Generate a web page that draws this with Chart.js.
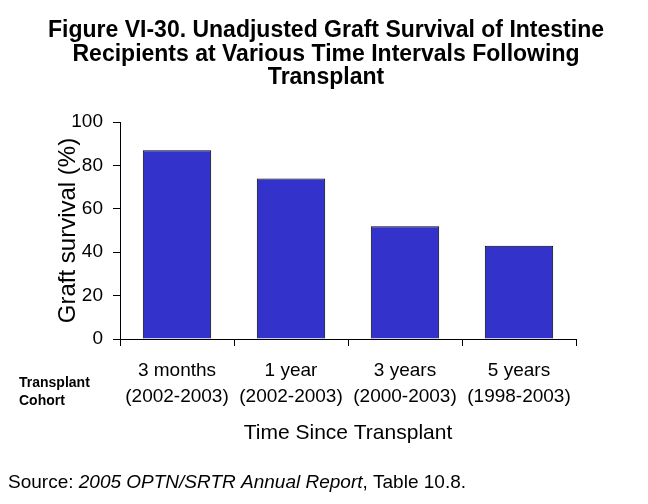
<!DOCTYPE html>
<html>
<head>
<meta charset="utf-8">
<title>Figure VI-30</title>
<script src="https://cdn.jsdelivr.net/npm/chart.js@4/dist/chart.umd.min.js"></script>
<style>
  html, body { margin: 0; padding: 0; background: #fff; }
  canvas { display: block; }
</style>
</head>
<body>
<canvas id="chart1" width="648" height="504"></canvas>
<script>
// data
const intervals = [['3 months', '(2002-2003)'], ['1 year', '(2002-2003)'], ['3 years', '(2000-2003)'], ['5 years', '(1998-2003)']];
const graftSurvival = [87, 74, 52, 43];
const yTicks = [0, 20, 40, 60, 80, 100];

const titleLines = [
  'Figure VI-30. Unadjusted Graft Survival of Intestine',
  'Recipients at Various Time Intervals Following',
  'Transplant'
];

const FONT = '"Liberation Sans", Arial, Helvetica, sans-serif';

// title (centred on the whole page), row label on the left and the source line
const notes = {
  id: 'notes',
  afterDraw(chart) {
    const ctx = chart.ctx;
    ctx.save();
    ctx.fillStyle = '#000';
    ctx.textBaseline = 'middle';

    ctx.textAlign = 'center';
    ctx.font = 'bold 23px ' + FONT;
    titleLines.forEach((line, i) => ctx.fillText(line, 326, 31 + i * 23.5));

    ctx.textAlign = 'left';
    ctx.font = 'bold 14px ' + FONT;
    ctx.fillText('Transplant', 19, 383);
    ctx.fillText('Cohort', 19, 401);

    let x = 8;
    const y = 483;
    const parts = [
      ['normal', 'Source: '],
      ['italic', '2005 OPTN/SRTR Annual Report'],
      ['normal', ', Table 10.8.']
    ];
    parts.forEach(([style, txt]) => {
      ctx.font = style + ' 19px ' + FONT;
      ctx.fillText(txt, x, y);
      x += ctx.measureText(txt).width;
    });
    ctx.restore();
  }
};

const chart1 = new Chart(document.getElementById('chart1').getContext('2d'), {
  type: 'bar',
  data: {
    labels: intervals,
    datasets: [{
      data: graftSurvival,
      backgroundColor: '#3333CC',
      borderColor: '#000',
      borderWidth: 1,
      barPercentage: 0.6,
      categoryPercentage: 1
    }]
  },
  options: {
    responsive: false,
    animation: false,
    devicePixelRatio: 1,
    layout: { padding: { left: 0, right: 72, top: 122, bottom: 40 } },
    plugins: {
      legend: { display: false },
      tooltip: { enabled: false },
      title: { display: false }
    },
    scales: {
      x: {
        border: { display: true, color: '#000', width: 1 },
        grid: { display: true, drawOnChartArea: false, drawTicks: true, tickLength: 7, color: '#000' },
        ticks: {
          color: '#000',
          padding: 12,
          maxRotation: 0,
          autoSkip: false,
          font: { family: FONT, size: 19, lineHeight: 1.37 }
        },
        title: {
          display: true,
          text: 'Time Since Transplant',
          color: '#000',
          font: { family: FONT, size: 21 },
          padding: { top: 0, bottom: 18 }
        },
        afterFit(scale) { scale.height = 125; }
      },
      y: {
        min: 0,
        max: 100,
        border: { display: true, color: '#000', width: 1 },
        grid: { display: true, drawOnChartArea: false, drawTicks: true, tickLength: 7, color: '#000' },
        afterBuildTicks(scale) { scale.ticks = yTicks.map(v => ({ value: v })); },
        ticks: {
          color: '#000',
          padding: 10,
          font: { family: FONT, size: 19 }
        },
        title: {
          display: true,
          text: 'Graft survival (%)',
          color: '#000',
          font: { family: FONT, size: 24 },
          padding: { top: 54, bottom: 0 }
        },
        afterFit(scale) { scale.width = 120; }
      }
    }
  },
  plugins: [notes]
});
</script>
</body>
</html>
